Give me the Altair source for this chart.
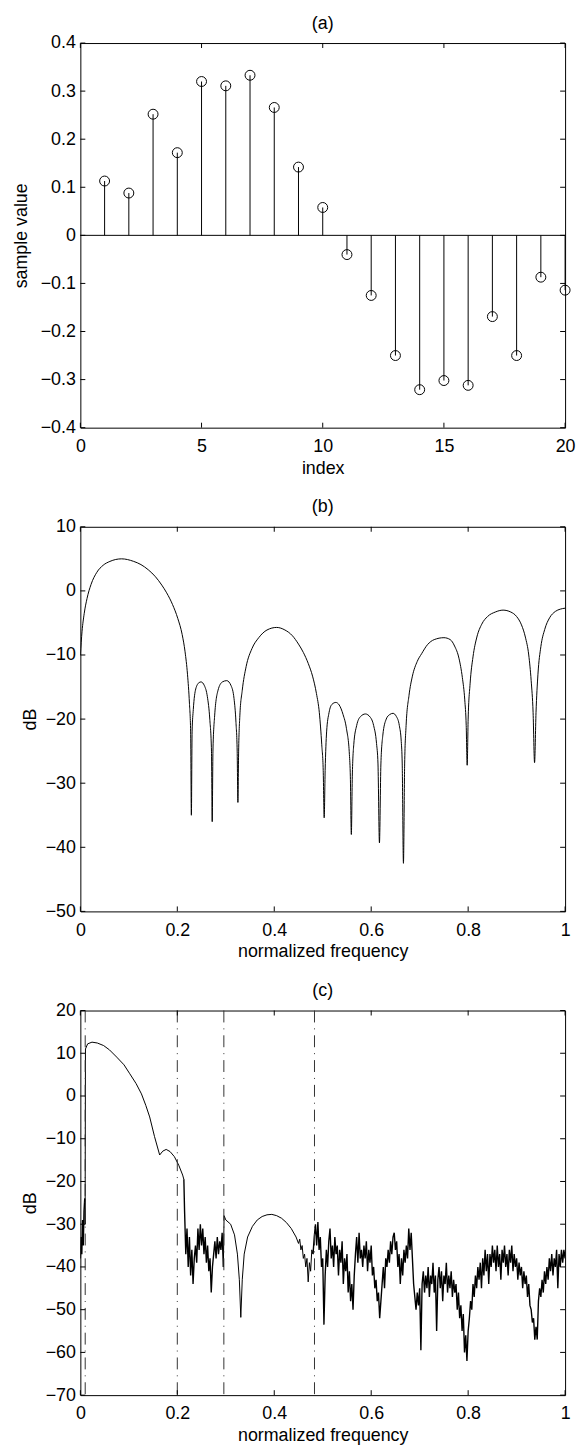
import altair as alt
import pandas as pd

FONT = "Liberation Sans"
FS = 18
W, H = 489, 388
TICK = 5

# ---------------- panel (a) ----------------
a_index = list(range(1, 21))
a_value = [0.113, 0.088, 0.252, 0.172, 0.320, 0.311, 0.333, 0.266, 0.142, 0.058,
           -0.040, -0.125, -0.250, -0.321, -0.302, -0.312, -0.169, -0.250, -0.087, -0.114]
a_xticks = [0, 5, 10, 15, 20]
a_yticks = [-0.4, -0.3, -0.2, -0.1, 0, 0.1, 0.2, 0.3, 0.4]

# ---------------- panel (b) ----------------
b_freq = [0.0, 0.0035, 0.008, 0.0137, 0.022, 0.034, 0.047, 0.061, 0.085, 0.11, 0.125, 0.14,
          0.155, 0.168, 0.178, 0.19, 0.201, 0.21, 0.216, 0.221, 0.225, 0.2275, 0.229, 0.2305,
          0.233, 0.238, 0.245, 0.249, 0.256, 0.262, 0.267, 0.2705, 0.272, 0.2735, 0.277, 0.284,
          0.293, 0.302, 0.311, 0.317, 0.321, 0.3235, 0.325, 0.3265, 0.329, 0.334, 0.342, 0.354,
          0.368, 0.385, 0.405, 0.422, 0.4375, 0.45, 0.46, 0.47, 0.479, 0.487, 0.493, 0.498,
          0.501, 0.503, 0.505, 0.508, 0.513, 0.519, 0.527, 0.534, 0.542, 0.549, 0.555, 0.557,
          0.559, 0.561, 0.564, 0.57, 0.578, 0.588, 0.598, 0.605, 0.611, 0.614, 0.617, 0.62,
          0.624, 0.631, 0.638, 0.645, 0.652, 0.658, 0.662, 0.664, 0.6665, 0.669, 0.672, 0.678,
          0.685, 0.695, 0.704, 0.716, 0.73, 0.75, 0.763, 0.772, 0.781, 0.788, 0.793, 0.796,
          0.798, 0.8, 0.804, 0.81, 0.818, 0.828, 0.84, 0.856, 0.872, 0.888, 0.9, 0.91, 0.918,
          0.925, 0.93, 0.934, 0.937, 0.94, 0.944, 0.95, 0.958, 0.968, 0.98, 0.99, 1.0]
b_db = [-10, -6.3, -3.5, -1.2, 1.0, 2.9, 4.0, 4.6, 5.0, 4.6, 4.1, 3.3,
        2.2, 0.9, -0.3, -2.1, -4.3, -6.8, -9.5, -13, -17.5, -22, -35, -22,
        -18.5, -15.3, -14.3, -14.2, -14.8, -16.5, -20, -25, -36, -25, -19.5, -15.5,
        -14.2, -14.0, -14.8, -16.8, -20.5, -25, -33, -25, -19.5, -15.5, -11.8, -9.0,
        -7.3, -6.1, -5.7, -6.1, -7.0, -8.3, -9.6, -11.3, -13.3, -16, -19, -24,
        -28, -35.4, -28, -22, -19, -17.7, -17.4, -17.8, -19.3, -21.5, -25.5, -29,
        -38, -29, -24, -21, -19.6, -19.2, -19.7, -21, -23.8, -27, -39.3, -27,
        -22.5, -20, -19.3, -19.1, -19.6, -21, -23.5, -27, -42.5, -27, -21, -16.3,
        -13.3, -11, -9.8, -8.4, -7.6, -7.3, -7.6, -8.6, -10.5, -13.5, -17, -21,
        -27.2, -20, -14.5, -10.3, -7.2, -5.2, -4.0, -3.3, -3.0, -3.3, -4.0, -5.3, -7.2,
        -10, -14, -19, -26.8, -19, -13, -8.7, -6.0, -4.2, -3.2, -2.85, -2.7]
b_xticks = [0, 0.2, 0.4, 0.6, 0.8, 1]
b_yticks = [-50, -40, -30, -20, -10, 0, 10]

# ---------------- panel (c) ----------------
c_lead_freq = [0.0, 0.0015, 0.003, 0.0045, 0.006, 0.0075, 0.009]
c_lead_db = [-38, -33, -37, -29, -35, -27, -24]

c_lobe_freq = [0.0098, 0.0105, 0.015, 0.024, 0.035, 0.048, 0.06, 0.075, 0.09, 0.102, 0.115,
               0.126, 0.135, 0.143, 0.153, 0.1636, 0.17, 0.177, 0.185, 0.194, 0.203, 0.211, 0.2135]
c_lobe_db = [-30, 11.0, 12.2, 12.6, 12.4, 11.8, 10.8, 9.1, 7.3, 5.2, 2.9,
             0.5, -2.2, -4.9, -9.5, -13.8, -12.9, -12.5, -13.0, -14.2, -16.2, -18.5, -19.5]

c_band1_start, c_band1_step = 0.215, 0.0025
c_band1_db = [-27, -37, -31, -40, -33, -42, -36, -44, -38, -35, -39, -31, -36, -30, -35, -31,
              -37, -33, -39, -35, -41, -38, -46, -40, -37, -34, -38, -33, -37, -34, -36, -32, -40]

c_mid_freq = [0.2965, 0.30, 0.31, 0.318, 0.324, 0.328, 0.331, 0.334, 0.338, 0.345, 0.355,
              0.365, 0.375, 0.385, 0.395, 0.405, 0.415, 0.425, 0.435, 0.445, 0.45, 0.4525,
              0.455, 0.4575, 0.46, 0.4625, 0.465, 0.4675, 0.47, 0.4725, 0.475, 0.4775, 0.48]
c_mid_db = [-28.0, -29.0, -30.0, -32.5, -37, -43, -51.8, -43, -37, -33, -30.5,
            -29, -28.2, -27.8, -27.7, -28.0, -28.6, -29.6, -31.0, -33, -34.5, -33.5,
            -36, -35, -38, -37, -40, -38, -43.5, -39, -41, -36, -37]

c_band2_start, c_band2_step = 0.4825, 0.0025
c_band2_db = [-33, -30, -35, -29.5, -36, -33, -40, -38, -53.5, -42, -36, -40, -34, -31, -38, -35,
              -40, -33, -37, -35, -42, -36, -39, -34, -44, -38, -41, -37, -46, -41, -48, -44,
              -50, -42, -37, -33, -39, -32, -38, -36, -40, -35, -38, -34, -41, -36, -39, -35,
              -42, -40, -45, -43, -48, -46, -52, -48, -44, -40, -45, -38, -40, -36, -39, -34,
              -37, -33, -32, -36, -34, -40, -37, -44, -38, -42, -36, -39, -35, -38, -31, -36,
              -32, -38, -44, -47, -50, -46, -49, -45, -59.5, -44, -41, -46, -42, -45, -40, -47,
              -42, -44, -39, -46, -42, -55, -43, -40, -45, -41, -48, -42, -44, -39, -46, -42,
              -45, -41, -47, -43, -46, -44, -50, -46, -52, -49, -55, -51, -60, -56, -62, -55,
              -52, -48, -50, -44, -47, -42, -45, -40, -43, -39, -45, -38, -42, -36, -41, -37,
              -44, -37, -40, -35, -39, -36, -41, -35, -40, -37, -43, -36, -39, -35, -40, -37,
              -42, -36, -39, -35, -41, -37, -40, -38, -43, -39, -42, -40, -45, -41, -44, -42,
              -47, -44, -49, -50, -53, -52, -57, -54, -57, -48, -45, -47, -43, -46, -41, -44,
              -40, -43, -38, -41, -37, -42, -38, -40, -36, -45, -37, -40, -36, -39, -36, -38]

c_vlines = [0.01, 0.2, 0.296, 0.483]
c_xticks = [0, 0.2, 0.4, 0.6, 0.8, 1]
c_yticks = [-70, -60, -50, -40, -30, -20, -10, 0, 10, 20]


def build_c_tables():
    """Split the spectrum into smooth and noisy pieces (boundary points shared)."""
    pieces = [
        ("noisy", c_lead_freq, c_lead_db),
        ("smooth", c_lobe_freq, c_lobe_db),
        ("noisy", [c_band1_start + i * c_band1_step for i in range(len(c_band1_db))], c_band1_db),
        ("smooth", c_mid_freq, c_mid_db),
        ("noisy", [c_band2_start + i * c_band2_step for i in range(len(c_band2_db))], c_band2_db),
    ]
    rows = {"noisy": [], "smooth": []}
    prev = None
    for k, (kind, fs, ds) in enumerate(pieces):
        pts = list(zip(fs, ds))
        if prev is not None:
            pts = [prev] + pts
        for f, d in pts:
            rows[kind].append({"f": f, "db": d, "seg": k})
        prev = (fs[-1], ds[-1])
    return pd.DataFrame(rows["smooth"]), pd.DataFrame(rows["noisy"])


MINUS = "replace(datum.label, '-', '\u2212')"


def x_axis(vals, t, fmt):
    return alt.Axis(values=vals, format=fmt, title=t, labelFlush=False,
                    labelPadding=10, titlePadding=4, labelExpr=MINUS)


def y_axis(vals, t, fmt, tp):
    return alt.Axis(values=vals, format=fmt, title=t, labelFlush=False,
                    labelPadding=5, titlePadding=tp, labelExpr=MINUS)


def frame_ticks(xticks, yticks, xs, ys, xax, yax):
    xt = pd.DataFrame({"t": xticks})
    yt = pd.DataFrame({"t": yticks})
    rule = dict(color="black", strokeWidth=1)
    bottom = alt.Chart(xt).mark_rule(**rule).encode(
        x=alt.X("t:Q", scale=xs, axis=xax), y=alt.value(H), y2=alt.value(H - TICK))
    top = alt.Chart(xt).mark_rule(**rule).encode(
        x=alt.X("t:Q", scale=xs, axis=xax), y=alt.value(0), y2=alt.value(TICK))
    left = alt.Chart(yt).mark_rule(**rule).encode(
        y=alt.Y("t:Q", scale=ys, axis=yax), x=alt.value(0), x2=alt.value(TICK))
    right = alt.Chart(yt).mark_rule(**rule).encode(
        y=alt.Y("t:Q", scale=ys, axis=yax), x=alt.value(W), x2=alt.value(W - TICK))
    return [bottom, top, left, right]


def title(t):
    return alt.TitleParams(t, frame="group", baseline="alphabetic", offset=-12.5,
                           fontSize=FS, font=FONT, fontWeight="normal", anchor="middle",
                           color="black")


# ---- panel (a) chart ----
xa = alt.Scale(domain=[0, 20], nice=False, zero=False)
ya = alt.Scale(domain=[-0.4, 0.4], nice=False, zero=False)
xa_ax = x_axis(a_xticks, "index", "d")
ya_ax = y_axis(a_yticks, "sample value", "~g", 10)
dfa = pd.DataFrame({"i": a_index, "v": a_value})

stems = alt.Chart(dfa).mark_rule(color="black", strokeWidth=1).encode(
    x=alt.X("i:Q", scale=xa, axis=xa_ax),
    y=alt.Y("v:Q", scale=ya, axis=ya_ax),
    y2=alt.datum(0),
)
circles = alt.Chart(dfa).mark_point(shape="circle", filled=False, size=100,
                                    color="black", strokeWidth=1, opacity=1).encode(
    x=alt.X("i:Q", scale=xa, axis=xa_ax), y=alt.Y("v:Q", scale=ya, axis=ya_ax))
baseline = alt.Chart(pd.DataFrame({"z": [0]})).mark_rule(color="black", strokeWidth=1).encode(
    y=alt.Y("z:Q", scale=ya, axis=ya_ax))
panel_a = alt.layer(stems, baseline, circles,
                    *frame_ticks(a_xticks, a_yticks, xa, ya, xa_ax, ya_ax)).properties(
    width=W, height=H, title=title("(a)"))

# ---- panel (b) chart ----
xb = alt.Scale(domain=[0, 1], nice=False, zero=False)
yb = alt.Scale(domain=[-50, 10], nice=False, zero=False)
xb_ax = x_axis(b_xticks, "normalized frequency", "~g")
yb_ax = y_axis(b_yticks, "dB", "d", 6)
dfb = pd.DataFrame({"f": b_freq, "db": b_db})
line_b = alt.Chart(dfb).mark_line(color="black", strokeWidth=1, interpolate="monotone", clip=True).encode(
    x=alt.X("f:Q", scale=xb, axis=xb_ax),
    y=alt.Y("db:Q", scale=yb, axis=yb_ax),
    order="f:Q",
)
panel_b = alt.layer(line_b, *frame_ticks(b_xticks, b_yticks, xb, yb, xb_ax, yb_ax)).properties(
    width=W, height=H, title=title("(b)"))

# ---- panel (c) chart ----
xc = alt.Scale(domain=[0, 1], nice=False, zero=False)
yc = alt.Scale(domain=[-70, 20], nice=False, zero=False)
xc_ax = x_axis(c_xticks, "normalized frequency", "~g")
yc_ax = y_axis(c_yticks, "dB", "d", 6)
dfc_smooth, dfc_noisy = build_c_tables()
vl = alt.Chart(pd.DataFrame({"f": c_vlines})).mark_rule(
    color="#333333", strokeWidth=1, strokeDash=[12, 6, 1, 6]).encode(
    x=alt.X("f:Q", scale=xc, axis=xc_ax))
line_c_smooth = alt.Chart(dfc_smooth).mark_line(color="black", strokeWidth=1, clip=True).encode(
    x=alt.X("f:Q", scale=xc, axis=xc_ax),
    y=alt.Y("db:Q", scale=yc, axis=yc_ax),
    detail="seg:N",
    order="f:Q",
)
line_c_noisy = alt.Chart(dfc_noisy).mark_line(color="black", strokeWidth=1.4, clip=True).encode(
    x=alt.X("f:Q", scale=xc, axis=xc_ax),
    y=alt.Y("db:Q", scale=yc, axis=yc_ax),
    detail="seg:N",
    order="f:Q",
)
panel_c = alt.layer(line_c_smooth, line_c_noisy, vl,
                    *frame_ticks(c_xticks, c_yticks, xc, yc, xc_ax, yc_ax)).properties(
    width=W, height=H, title=title("(c)"))

chart = alt.vconcat(panel_a, panel_b, panel_c, spacing=100, bounds="flush").properties(
    padding={"left": 3, "top": 0, "right": 0, "bottom": 0}
).configure_view(stroke="black", strokeWidth=1).configure_axis(
    domain=False, grid=False, ticks=False, labelFont=FONT, labelFontSize=FS,
    titleFont=FONT, titleFontSize=FS, titleFontWeight="normal",
    labelColor="black", titleColor="black", labelBound=False,
)

chart.save("out.html", embed_options={"renderer": "svg", "actions": False})
